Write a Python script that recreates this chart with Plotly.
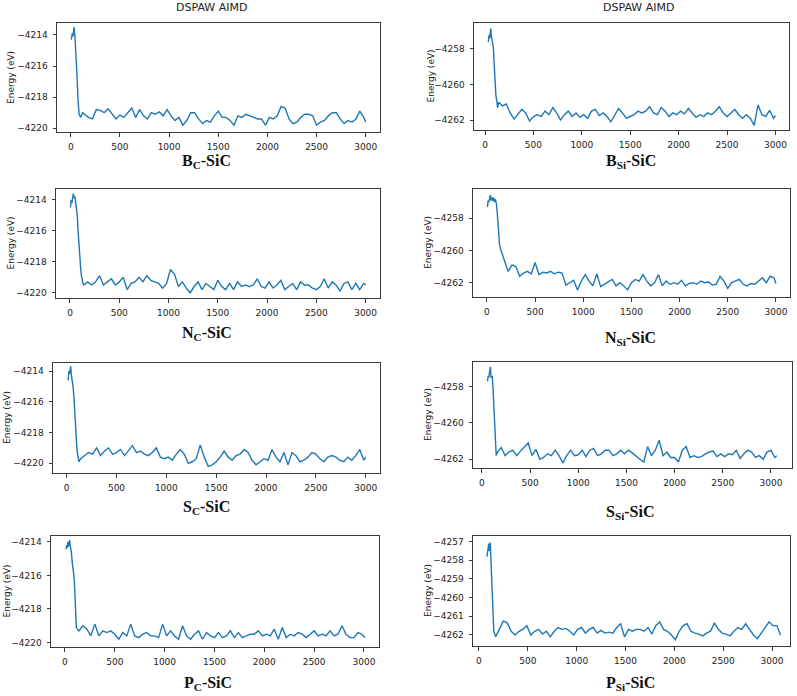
import plotly.graph_objects as go

W, H = 797, 696

# ---------------- data (time in fs, energy in eV) ----------------
t_bc = [5, 15, 20, 28, 35, 45, 55, 65, 75, 85, 100, 120] + list(range(140, 2981, 40)) + [3000]
e_bc = [-4214.3, -4213.9, -4214.1, -4213.6, -4213.5, -4214.4, -4215.3, -4216.8, -4218.3, -4219.1, -4219.3, -4219.0,
        -4219.1, -4219.3, -4219.4, -4218.8, -4218.85, -4219.0, -4218.75, -4219.1, -4219.4, -4219.15,
        -4219.3, -4219.0, -4218.7, -4219.3, -4218.8, -4219.2, -4219.4, -4219.0, -4219.1, -4218.95,
        -4219.2, -4218.8, -4219.2, -4219.5, -4219.3, -4219.8, -4219.5, -4219.0, -4219.0, -4219.4,
        -4219.7, -4219.5, -4219.6, -4219.2, -4218.9, -4219.3, -4219.3, -4219.5, -4219.8, -4219.2,
        -4219.3, -4219.1, -4219.2, -4219.3, -4219.4, -4219.4, -4219.8, -4219.3, -4219.4, -4219.2,
        -4218.6, -4218.7, -4219.4, -4219.7, -4219.6, -4219.3, -4219.1, -4219.1, -4219.2, -4219.8,
        -4219.6, -4219.5, -4219.2, -4219.0, -4219.0, -4219.4, -4219.7, -4219.5, -4219.6, -4219.4,
        -4218.9, -4219.3,
        -4219.6]

t_bsi = [34, 42, 50, 58, 66, 76, 86, 95, 103, 112, 120, 130] + list(range(140, 2981, 40)) + [3000]
e_bsi = [-4257.6, -4257.2, -4257.4, -4256.85, -4257.3, -4257.6, -4257.9, -4258.9, -4259.9, -4260.6, -4260.9, -4261.3,
         -4261.0, -4261.2, -4261.1, -4261.6, -4261.95, -4261.7, -4261.4, -4261.6, -4262.05, -4261.8,
         -4261.7, -4261.8, -4261.5, -4261.7, -4261.3, -4261.6, -4262.0, -4261.7, -4261.5, -4261.8,
         -4261.6, -4261.85, -4261.7, -4261.9, -4261.5, -4261.4, -4261.75, -4261.6, -4261.8, -4262.1,
         -4261.7, -4261.35, -4261.6, -4261.9, -4261.8, -4261.7, -4261.5, -4261.6, -4261.5, -4261.25,
         -4261.6, -4261.7, -4261.3, -4261.5, -4261.8, -4261.6, -4261.7, -4261.5, -4261.65, -4261.35,
         -4261.6, -4261.85, -4261.7, -4261.8, -4261.6, -4261.7, -4261.5, -4261.25, -4261.6, -4261.8,
         -4261.6, -4261.4, -4261.7, -4261.9, -4261.7, -4261.9, -4262.3, -4261.15, -4261.7, -4261.8,
         -4261.45, -4261.9,
         -4261.75]

t_nc = [5, 12, 20, 28, 34, 42, 50, 58, 66, 74, 82, 90, 96, 102, 108, 116, 124, 132] + list(range(140, 2981, 40)) + [3000]
e_nc = [-4214.5, -4214.0, -4214.2, -4213.8, -4213.6, -4213.9, -4213.8, -4214.2, -4214.7, -4215.0, -4216.0, -4216.9,
        -4217.5, -4217.6, -4218.4, -4218.9, -4219.2, -4219.4,
        -4219.5, -4219.3, -4219.5, -4219.3, -4218.9, -4219.5, -4219.3, -4219.1, -4219.5, -4219.3,
        -4219.0, -4219.8, -4219.4, -4219.3, -4219.0, -4219.3, -4218.9, -4219.2, -4219.3, -4219.4,
        -4219.7, -4219.4, -4218.5, -4218.8, -4219.6, -4219.3, -4219.7, -4220.0, -4219.6, -4219.3,
        -4219.8, -4219.4, -4219.6, -4219.8, -4219.2, -4219.6, -4219.8, -4219.4, -4219.8, -4219.3,
        -4219.6, -4219.5, -4219.6, -4219.5, -4219.1, -4219.6, -4219.7, -4219.3, -4219.7, -4219.5,
        -4219.2, -4219.8, -4219.6, -4219.4, -4219.8, -4219.3, -4219.5, -4219.5, -4219.7, -4219.8,
        -4219.6, -4219.1, -4219.7, -4219.3, -4219.5, -4219.9, -4219.4, -4219.3, -4219.8, -4219.4,
        -4219.8, -4219.4,
        -4219.5]

t_nsi = [5, 12, 20, 28, 35, 42, 50, 58, 66, 74, 82, 90, 98, 106, 114, 122, 130] + list(range(140, 2981, 40)) + [3000]
e_nsi = [-4257.3, -4256.9, -4257.0, -4256.6, -4256.55, -4256.9, -4256.7, -4256.9, -4256.7, -4257.0, -4256.8, -4256.9,
         -4257.1, -4257.6, -4258.4, -4259.2, -4259.6,
         -4259.9, -4260.6, -4261.3, -4260.9, -4261.0, -4261.6, -4261.4, -4261.3, -4261.45, -4260.75,
         -4261.5, -4261.35, -4261.4, -4261.3, -4261.45, -4261.35, -4261.4, -4262.15, -4262.0, -4261.85,
         -4262.45, -4261.9, -4261.5, -4261.9, -4262.2, -4261.45, -4262.25, -4262.1, -4261.9, -4261.8,
         -4262.2, -4262.0, -4262.2, -4262.45, -4262.0, -4261.8, -4261.9, -4261.5, -4261.9, -4262.2,
         -4262.0, -4261.5, -4262.2, -4261.9, -4262.1, -4262.0, -4262.1, -4261.85, -4262.2, -4262.05,
         -4262.0, -4262.1, -4261.9, -4262.0, -4261.95, -4262.15, -4262.1, -4261.6, -4261.9, -4262.35,
         -4262.0, -4261.9, -4261.8, -4262.1, -4262.2, -4262.05, -4262.1, -4261.9, -4261.7, -4262.0,
         -4261.6, -4261.7,
         -4262.05]

t_sc = [15, 22, 28, 35, 40, 48, 56, 64, 72, 80, 88, 96, 104, 112, 124] + list(range(140, 2981, 40)) + [3000]
e_sc = [-4214.6, -4214.0, -4214.2, -4213.9, -4213.7, -4214.3, -4214.6, -4215.0, -4215.6, -4216.3, -4217.1, -4218.3,
        -4219.2, -4219.6, -4219.9,
        -4219.7, -4219.5, -4219.3, -4219.4, -4219.0, -4219.5, -4219.2, -4219.0, -4219.4, -4219.3,
        -4219.1, -4219.5, -4219.2, -4218.85, -4219.3, -4219.2, -4219.4, -4219.5, -4219.3, -4219.0,
        -4219.6, -4219.7, -4219.6, -4219.8, -4219.4, -4219.1, -4219.4, -4220.0, -4219.9, -4219.7,
        -4218.8, -4219.6, -4220.2, -4220.1, -4219.9, -4219.6, -4219.2, -4219.6, -4219.8, -4219.5,
        -4219.4, -4219.1, -4219.3, -4219.8, -4220.1, -4219.9, -4219.7, -4219.8, -4219.1, -4219.6,
        -4219.9, -4219.3, -4220.1, -4219.3, -4219.5, -4219.9, -4219.8, -4219.6, -4219.3, -4219.4,
        -4219.7, -4219.9, -4219.6, -4219.5, -4219.6, -4219.8, -4219.9, -4219.6, -4219.8, -4219.5,
        -4219.1, -4219.8,
        -4219.6]

t_ssi = [58, 64, 70, 76, 82, 88, 94, 100, 106, 114, 122, 130, 138, 148] + list(range(160, 3041, 40)) + [3062]
e_ssi = [-4257.7, -4257.4, -4257.5, -4257.3, -4257.1, -4256.9, -4257.5, -4257.4, -4257.4, -4258.0, -4258.8, -4259.9,
         -4260.9, -4261.8,
         -4261.6, -4261.35, -4261.8, -4261.6, -4261.5, -4261.8, -4261.55, -4261.3, -4261.1, -4261.8,
         -4261.45, -4262.0, -4261.9, -4261.7, -4261.8, -4261.5, -4261.8, -4262.2, -4261.8, -4261.5,
         -4261.8, -4261.75, -4261.5, -4261.85, -4261.5, -4261.4, -4261.8, -4261.7, -4261.5, -4261.5,
         -4261.8, -4261.7, -4261.5, -4261.7, -4261.5, -4261.65, -4261.85, -4262.0, -4262.15, -4261.3,
         -4261.8, -4261.5, -4260.95, -4261.8, -4261.6, -4261.9, -4261.9, -4262.15, -4261.5, -4261.3,
         -4261.9, -4261.8, -4261.9, -4261.85, -4261.7, -4261.6, -4261.55, -4261.85, -4261.7, -4261.85,
         -4261.7, -4261.75, -4261.5, -4261.95, -4261.7, -4261.5, -4261.6, -4261.9, -4261.8, -4262.0,
         -4261.6, -4261.5, -4261.9,
         -4261.8]

t_pc = [10, 18, 24, 30, 36, 42, 47, 55, 64, 74, 82, 90, 98, 106, 114, 124] + list(range(140, 2981, 40)) + [3010]
e_pc = [-4214.45, -4214.2, -4214.35, -4214.0, -4214.3, -4214.1, -4213.9, -4214.3, -4214.6, -4215.3, -4215.6, -4216.0,
        -4216.8, -4218.1, -4219.1, -4219.2,
        -4219.3, -4219.0, -4219.2, -4219.6, -4218.9, -4219.6, -4219.3, -4219.4, -4219.3, -4219.5,
        -4219.8, -4219.4, -4219.6, -4218.9, -4219.6, -4219.7, -4219.5, -4219.4, -4219.6, -4219.6,
        -4219.7, -4218.9, -4219.6, -4219.3, -4219.6, -4219.8, -4219.0, -4219.6, -4219.8, -4219.5,
        -4219.3, -4219.8, -4219.4, -4219.6, -4219.7, -4219.4, -4219.7, -4219.6, -4219.3, -4219.7,
        -4219.4, -4219.7, -4219.6, -4219.5, -4219.5, -4219.3, -4219.6, -4219.5, -4219.6, -4219.2,
        -4219.8, -4219.1, -4219.7, -4219.5, -4219.6, -4219.4, -4219.5, -4219.7, -4219.5, -4219.3,
        -4219.6, -4219.5, -4219.6, -4219.3, -4219.6, -4219.5, -4219.0, -4219.5, -4219.7, -4219.7,
        -4219.4, -4219.5,
        -4219.7]

t_psi = [82, 88, 94, 100, 106, 112, 116, 122, 128, 134, 140, 146, 152] + list(range(170, 3051, 40)) + [3086]
e_psi = [-4257.8, -4257.5, -4257.35, -4257.1, -4257.5, -4257.3, -4257.05, -4257.9, -4258.7, -4259.6, -4260.6, -4261.4,
         -4261.8,
         -4262.1, -4261.7, -4261.25, -4261.35, -4261.8, -4262.0, -4261.8, -4261.7, -4261.5, -4262.0,
         -4261.8, -4261.7, -4261.95, -4261.8, -4262.1, -4261.8, -4261.6, -4261.7, -4261.65, -4261.8,
         -4262.0, -4261.7, -4261.6, -4261.9, -4261.7, -4261.6, -4261.9, -4261.75, -4261.9, -4261.85,
         -4261.9, -4261.6, -4261.4, -4262.1, -4261.7, -4261.8, -4261.7, -4261.7, -4261.8, -4261.6,
         -4261.95, -4261.5, -4261.3, -4261.7, -4261.8, -4262.0, -4262.25, -4261.8, -4261.5, -4261.4,
         -4261.8, -4261.9, -4261.95, -4262.05, -4261.9, -4261.8, -4261.35, -4261.7, -4261.9, -4261.95,
         -4262.05, -4261.8, -4261.6, -4261.7, -4261.4, -4261.7, -4262.0, -4262.2, -4261.9, -4261.55,
         -4261.3, -4261.5, -4261.5,
         -4262.0]

x_ticks = [0, 500, 1000, 1500, 2000, 2500, 3000]
y_ticks_c = [-4220, -4218, -4216, -4214]
y_ticks_si = [-4262, -4260, -4258]
y_ticks_psi = [-4262, -4261, -4260, -4259, -4258, -4257]

# ---------------- layout of the eight panels ----------------
panels = [
    dict(t=t_bc, e=e_bc, box=(57, 380, 23, 132), xr=[-140, 3145], yr=[-4220.24, -4213.23], yt=y_ticks_c,
         label="<b>B<sub>C</sub>-SiC</b>", lab=(207, 162), ylab=11.5),
    dict(t=t_bsi, e=e_bsi, box=(474, 789, 23, 130), xr=[-114, 3140], yr=[-4262.56, -4256.54], yt=y_ticks_si,
         label="<b>B<sub>Si</sub>-SiC</b>", lab=(631, 162), ylab=430),
    dict(t=t_nc, e=e_nc, box=(56, 380, 189, 298), xr=[-142, 3146], yr=[-4220.34, -4213.31], yt=y_ticks_c,
         label="<b>N<sub>C</sub>-SiC</b>", lab=(207, 334), ylab=10),
    dict(t=t_nsi, e=e_nsi, box=(473, 790, 189, 297), xr=[-145, 3146], yr=[-4262.89, -4256.18], yt=y_ticks_si,
         label="<b>N<sub>Si</sub>-SiC</b>", lab=(630, 338), ylab=428),
    dict(t=t_sc, e=e_sc, box=(53, 380, 363, 473), xr=[-137, 3143], yr=[-4220.63, -4213.48], yt=y_ticks_c,
         label="<b>S<sub>C</sub>-SiC</b>", lab=(206, 507), ylab=7),
    dict(t=t_ssi, e=e_ssi, box=(473, 792, 362, 468), xr=[-93, 3219], yr=[-4262.48, -4256.64], yt=y_ticks_si,
         label="<b>S<sub>Si</sub>-SiC</b>", lab=(630, 512), ylab=428),
    dict(t=t_pc, e=e_pc, box=(51, 379, 536, 647), xr=[-140, 3151], yr=[-4220.26, -4213.66], yt=y_ticks_c,
         label="<b>P<sub>C</sub>-SiC</b>", lab=(208, 683), ylab=6),
    dict(t=t_psi, e=e_psi, box=(473, 790, 536, 646), xr=[-61, 3184], yr=[-4262.59, -4256.70], yt=y_ticks_psi,
         label="<b>P<sub>Si</sub>-SiC</b>", lab=(630, 683), ylab=428),
]

LINE = "#1f77b4"
AX = "#3a3a3a"
TICKFONT = dict(family="DejaVu Sans", size=9, color="#222")


def px(x):
    return x / W


def py(y):
    return 1 - y / H


fig = go.Figure()
annotations = []
layout = {}
for i, p in enumerate(panels, start=1):
    n = min(len(p["t"]), len(p["e"]))
    xa = "x" if i == 1 else f"x{i}"
    ya = "y" if i == 1 else f"y{i}"
    fig.add_trace(go.Scatter(x=p["t"][:n], y=p["e"][:n], mode="lines",
                             line=dict(color=LINE, width=1.4), xaxis=xa, yaxis=ya,
                             showlegend=False, hoverinfo="skip"))
    l, r, top, bot = p["box"]
    common = dict(showline=True, mirror=True, linecolor=AX, linewidth=1, showgrid=False, zeroline=False,
                  ticks="outside", ticklen=3.5, tickwidth=0.8, tickcolor=AX, tickfont=TICKFONT,
                  ticklabelstandoff=3)
    layout["xaxis" if i == 1 else f"xaxis{i}"] = dict(
        domain=[px(l), px(r)], anchor=ya, range=p["xr"], tickvals=x_ticks,
        ticktext=[str(v) for v in x_ticks], **common)
    layout["yaxis" if i == 1 else f"yaxis{i}"] = dict(
        domain=[py(bot), py(top)], anchor=xa, range=p["yr"], tickvals=p["yt"],
        ticktext=["\u2212" + str(abs(v)) for v in p["yt"]], **common)
    annotations.append(dict(text=p["label"], x=px(p["lab"][0]), y=py(p["lab"][1]), xref="paper", yref="paper",
                            xanchor="center", yanchor="middle", showarrow=False,
                            font=dict(family="Liberation Serif", size=16, color="#111")))
    annotations.append(dict(text="Energy (eV)", x=px(p["ylab"]), y=py((top + bot) / 2), xref="paper",
                            yref="paper", xanchor="center", yanchor="middle", showarrow=False, textangle=-90,
                            font=dict(family="DejaVu Sans", size=9, color="#222")))

for cx in (212, 638):
    annotations.append(dict(text="DSPAW AIMD", x=px(cx), y=py(8), xref="paper", yref="paper",
                            xanchor="center", yanchor="middle", showarrow=False,
                            font=dict(family="DejaVu Sans", size=11, color="#222")))

fig.update_layout(width=W, height=H, autosize=False, margin=dict(l=0, r=0, t=0, b=0),
                  paper_bgcolor="white", plot_bgcolor="white", annotations=annotations, **layout)

fig.write_html("out.html")
